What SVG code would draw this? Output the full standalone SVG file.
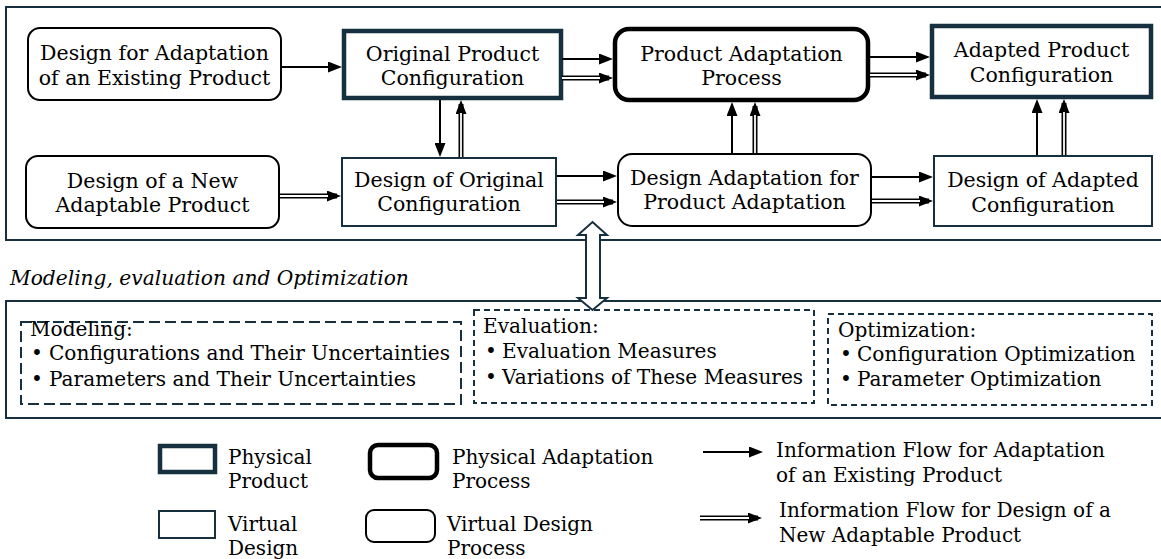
<svg xmlns="http://www.w3.org/2000/svg" width="1161" height="559" viewBox="0 0 1161 559">
<defs>
<marker id="ah" viewBox="0 0 14 11" refX="10" refY="5.5" markerWidth="14" markerHeight="11" markerUnits="userSpaceOnUse" orient="auto"><path d="M0,0 L14,5.5 L0,11 z" fill="#000"/></marker>
</defs>
<style>
text{font-family:"DejaVu Serif","Liberation Serif",serif;font-size:20.5px;fill:#000}
.c{text-anchor:middle}
.it{font-style:italic;font-size:20.2px}
.b{font-size:20.1px}
.lg{font-size:20px}
.frame{fill:none;stroke:#17303f;stroke-width:2}
.phys{fill:#fff;stroke:#17303f;stroke-width:4.5}
.virt{fill:#fff;stroke:#17303f;stroke-width:2}
.pproc{fill:#fff;stroke:#000;stroke-width:4.5}
.vproc{fill:#fff;stroke:#000;stroke-width:2}
.s{fill:none;stroke:#000;stroke-width:2;marker-end:url(#ah)}
.d{fill:none;stroke:#000;stroke-width:5;marker-end:url(#ah)}
.dw{fill:none;stroke:#fff;stroke-width:1.8}
.dash1{fill:none;stroke:#17303f;stroke-width:2;stroke-dasharray:11 5}
.dash2{fill:none;stroke:#17303f;stroke-width:2;stroke-dasharray:6 4}
.hollow{fill:#fff;stroke:#17303f;stroke-width:2;stroke-linejoin:miter}
</style>
<rect width="1161" height="559" fill="#fff"/>

<g id="frames">
<rect class="frame" x="6" y="7" width="1160" height="233"/>
<rect class="frame" x="6" y="301" width="1160" height="117"/>
</g>

<g id="n-dfa">
<rect class="vproc" x="28" y="28" width="253" height="72" rx="12"/>
<text class="c"><tspan x="154.5" y="60">Design for Adaptation</tspan><tspan x="154.5" y="85">of an Existing Product</tspan></text>
</g>
<g id="n-dnap">
<rect class="vproc" x="26" y="156" width="253" height="72" rx="12"/>
<text class="c"><tspan x="152.5" y="188">Design of a New</tspan><tspan x="152.5" y="212">Adaptable Product</tspan></text>
</g>
<g id="n-opc">
<rect class="phys" x="344" y="31" width="217" height="67"/>
<text class="c"><tspan x="452.5" y="61">Original Product</tspan><tspan x="452.5" y="85">Configuration</tspan></text>
</g>
<g id="n-doc">
<rect class="virt" x="342" y="158" width="214" height="68"/>
<text class="c"><tspan x="449" y="187">Design of Original</tspan><tspan x="449" y="211">Configuration</tspan></text>
</g>
<g id="n-pap">
<rect class="pproc" x="615" y="29" width="253" height="71" rx="14"/>
<text class="c"><tspan x="741.5" y="61">Product Adaptation</tspan><tspan x="741.5" y="85">Process</tspan></text>
</g>
<g id="n-dapa">
<rect class="vproc" x="618" y="154" width="253" height="72" rx="14"/>
<text class="c"><tspan x="744.5" y="185">Design Adaptation for</tspan><tspan x="744.5" y="209">Product Adaptation</tspan></text>
</g>
<g id="n-apc">
<rect class="phys" x="932" y="26" width="219" height="71"/>
<text class="c"><tspan x="1041.5" y="57">Adapted Product</tspan><tspan x="1041.5" y="82">Configuration</tspan></text>
</g>
<g id="n-dac">
<rect class="virt" x="934" y="156" width="218" height="70"/>
<text class="c"><tspan x="1043" y="187">Design of Adapted</tspan><tspan x="1043" y="212">Configuration</tspan></text>
</g>

<g id="connectors">
<path class="s" d="M282,67 H338"/>
<path class="d" d="M280,196 H337"/><path class="dw" d="M280,196 H328"/>
<path class="s" d="M562,59 H609"/>
<path class="d" d="M562,78 H609"/><path class="dw" d="M562,78 H600"/>
<path class="s" d="M870,57 H926"/>
<path class="d" d="M870,75 H926"/><path class="dw" d="M870,75 H917"/>
<path class="s" d="M440,100 V153"/>
<path class="d" d="M461,157 V104"/><path class="dw" d="M461,157 V113"/>
<path class="s" d="M557,176 H613"/>
<path class="d" d="M557,202 H613"/><path class="dw" d="M557,202 H604"/>
<path class="s" d="M732,153 V106"/>
<path class="d" d="M755,153 V106"/><path class="dw" d="M755,153 V115"/>
<path class="s" d="M872,177 H929"/>
<path class="d" d="M872,201 H929"/><path class="dw" d="M872,201 H920"/>
<path class="s" d="M1037,155 V103"/>
<path class="d" d="M1064,155 V103"/><path class="dw" d="M1064,155 V112"/>
<polygon class="hollow" points="592.5,222 607,235 600,235 600,298 607,298 592.5,310 578,298 586,298 586,235 578,235"/>
</g>

<text class="it" x="10" y="285">Modeling, evaluation and Optimization</text>

<g id="n-modeling" class="b">
<rect class="dash1" x="21" y="322" width="440" height="82"/>
<text class="b" x="30" y="336">Modeling:</text>
<text class="b"><tspan x="31" y="360">•</tspan><tspan x="49" y="360">Configurations and Their Uncertainties</tspan></text>
<text class="b"><tspan x="31" y="386">•</tspan><tspan x="49" y="386">Parameters and Their Uncertainties</tspan></text>
</g>
<g id="n-evaluation">
<rect class="dash2" x="474" y="310" width="340" height="93"/>
<text class="b" x="483" y="333">Evaluation:</text>
<text class="b"><tspan x="485" y="358">•</tspan><tspan x="502" y="358">Evaluation Measures</tspan></text>
<text class="b"><tspan x="485" y="384">•</tspan><tspan x="502" y="384">Variations of These Measures</tspan></text>
</g>
<g id="n-optimization">
<rect class="dash2" x="828" y="314" width="324" height="91"/>
<text class="b" x="838" y="337">Optimization:</text>
<text class="b"><tspan x="840" y="361">•</tspan><tspan x="857" y="361">Configuration Optimization</tspan></text>
<text class="b"><tspan x="840" y="386">•</tspan><tspan x="857" y="386">Parameter Optimization</tspan></text>
</g>

<g id="legend">
<g id="lg-phys">
<rect class="phys" x="160" y="446" width="55" height="26"/>
<text class="lg" x="228" y="464">Physical</text>
<text class="lg" x="228" y="488">Product</text>
</g>
<g id="lg-virt">
<rect class="virt" x="159" y="511" width="56" height="27"/>
<text class="lg" x="228" y="531">Virtual</text>
<text class="lg" x="228" y="555">Design</text>
</g>
<g id="lg-pproc">
<rect class="pproc" x="370" y="445" width="67" height="33" rx="8"/>
<text class="lg" x="452" y="464">Physical Adaptation</text>
<text class="lg" x="452" y="488">Process</text>
</g>
<g id="lg-vproc">
<rect class="vproc" x="366" y="510" width="69" height="32" rx="8"/>
<text class="lg" x="447" y="531">Virtual Design</text>
<text class="lg" x="447" y="555">Process</text>
</g>
<g id="lg-single">
<path class="s" d="M703,452 H759"/>
<text class="lg" x="776" y="457">Information Flow for Adaptation</text>
<text class="lg" x="776" y="482">of an Existing Product</text>
</g>
<g id="lg-double">
<path class="d" d="M700,518 H758"/><path class="dw" d="M700,518 H749"/>
<text class="lg" x="779" y="517">Information Flow for Design of a</text>
<text class="lg" x="779" y="542">New Adaptable Product</text>
</g>
</g>
</svg>
